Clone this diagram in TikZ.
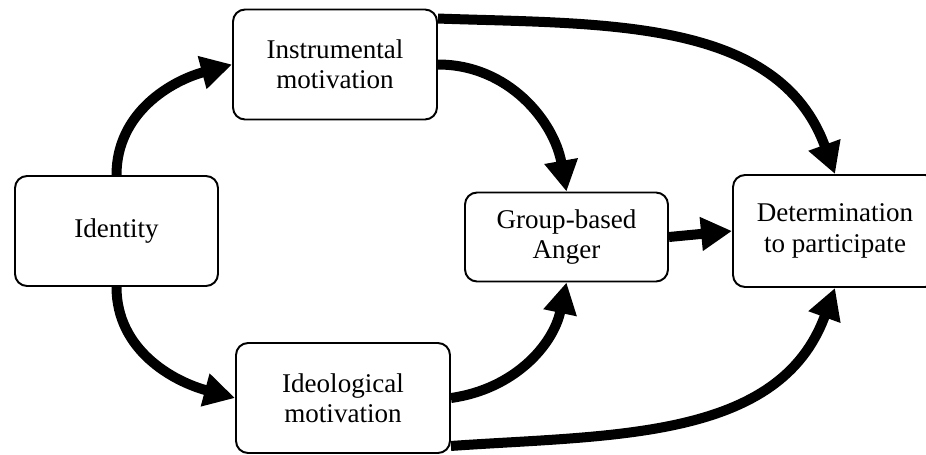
\documentclass[tikz,border=0pt]{standalone}
\usepackage{fontspec}
\setmainfont{Liberation Serif}
\usepackage{tikz}
\usetikzlibrary{arrows.meta}

\begin{document}
\begin{tikzpicture}[x=0.02cm,y=0.02cm,
  >={Triangle[length=0.62cm,width=0.64cm]},
  box/.style={draw,line width=1.1pt,rounded corners=0.24cm,fill=white,align=center,
    minimum height=2.2cm,font=\fontsize{15.4}{17.3}\selectfont},
  link/.style={->,line width=0.2cm}]
\useasboundingbox (0,0) rectangle (926,454);
\node[box,minimum width=4.06cm] (ident) at (116.5,223) {Identity};
\node[box,minimum width=4.08cm] (instr) at (335,389.5) {Instrumental\\motivation};
\node[box,minimum width=4.28cm] (ideo) at (343,56) {Ideological\\motivation};
\node[box,minimum width=4.06cm,minimum height=1.78cm] (anger) at (566.5,217) {Group-based\\Anger};
\node[box,minimum width=4.08cm,minimum height=2.24cm] (determ) at (835,223) {Determination\\to participate};
\draw[link] (ident.north) to[out=90,in=195] (instr.west);
\draw[link] (ident.south) to[out=-90,in=165] (ideo.west);
\draw[link] ([yshift=-0.2cm]instr.north east) to[out=-2,in=110] (determ.north);
\draw[link] (instr.east) to[out=0,in=100] (anger.north);
\draw[link] (anger.east) -- (determ.west);
\draw[link] (ideo.east) to[out=8,in=258] (anger.south);
\draw[link] ([yshift=0.16cm]ideo.south east) to[out=4,in=250] (determ.south);
\end{tikzpicture}
\end{document}
